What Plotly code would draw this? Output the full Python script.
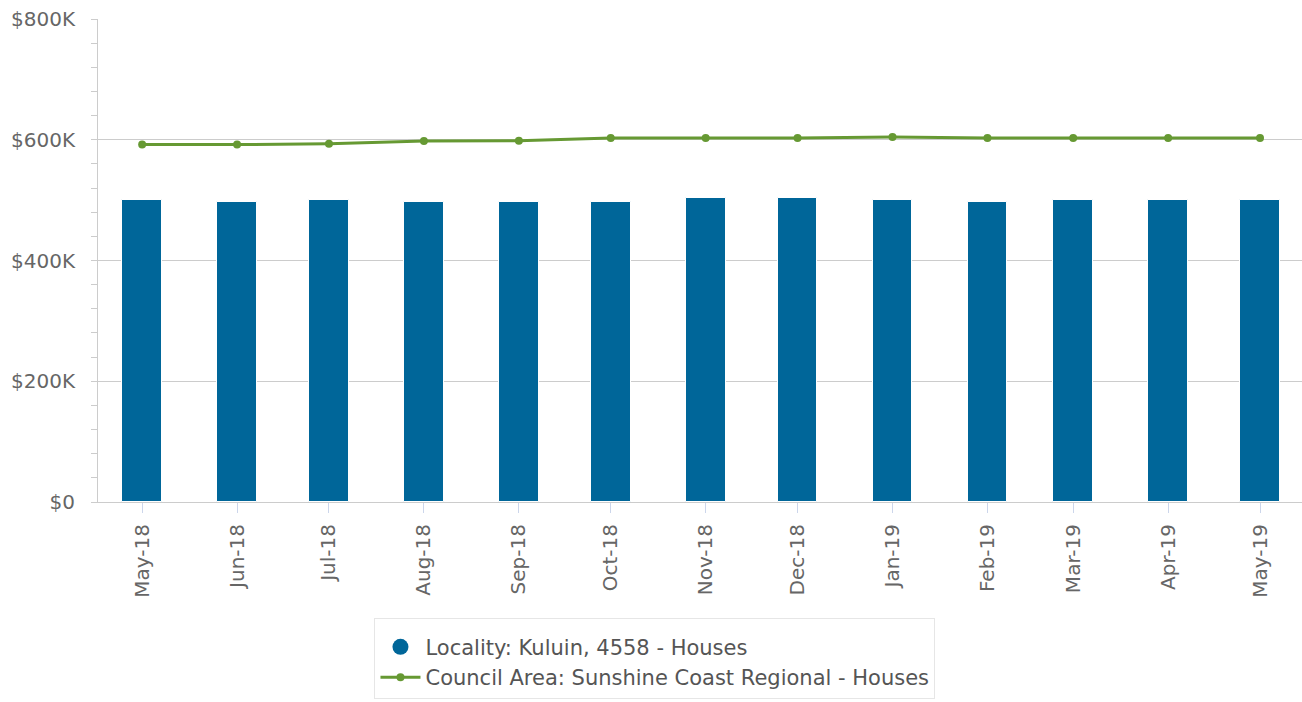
import plotly.graph_objects as go

months = ["2018-05-01", "2018-06-01", "2018-07-01", "2018-08-01", "2018-09-01",
          "2018-10-01", "2018-11-01", "2018-12-01", "2019-01-01", "2019-02-01",
          "2019-03-01", "2019-04-01", "2019-05-01"]
locality_values = [500000, 497000, 500000, 497000, 497000, 497000, 503000,
                   503000, 500000, 497000, 500000, 500000, 500000]
council_values = [592000, 592000, 593500, 598000, 598500, 603000, 603000,
                  603000, 604500, 603000, 603000, 603000, 603000]
y_ticks = [0, 200000, 400000, 600000, 800000]
y_tick_labels = ["$0", "$200K", "$400K", "$600K", "$800K"]

locality_name = "Locality: Kuluin, 4558 - Houses"
council_name = "Council Area: Sunshine Coast Regional - Houses"

BLUE = "#006699"
GREEN = "#669933"
FONT = "DejaVu Sans"

fig = go.Figure()
fig.add_trace(go.Bar(
    x=months, y=locality_values, name=locality_name,
    marker=dict(color=BLUE, line=dict(color="#ffffff", width=1)),
    width=13 * 86400000, showlegend=False,
))
# legend-only entry so the bar series shows a round symbol, as in the reference
fig.add_trace(go.Scatter(
    x=[None], y=[None], mode="markers", name=locality_name,
    marker=dict(color=BLUE, size=16, symbol="circle"),
))
fig.add_trace(go.Scatter(
    x=months, y=council_values, name=council_name, mode="lines+markers",
    line=dict(color=GREEN, width=3), marker=dict(color=GREEN, size=8),
))

fig.update_layout(
    width=1302, height=702,
    margin=dict(l=98, r=0, t=19, b=200, autoexpand=False),
    paper_bgcolor="white", plot_bgcolor="white",
    font=dict(family=FONT, size=20, color="#666666"),
    bargap=0,
    legend=dict(
        orientation="v", x=0.4626, xanchor="center", y=-0.24, yanchor="top",
        bordercolor="#e6e6e6", borderwidth=1, bgcolor="white",
        font=dict(family=FONT, size=21, color="#555555"),
        itemsizing="trace", tracegroupgap=0, itemwidth=40,
        title=dict(text=" ", font=dict(size=6)),
    ),
    xaxis=dict(
        type="date", range=["2018-04-16 14:00", "2019-05-14 17:00"],
        tickvals=months, tickformat="%b-%y", tickangle=-90,
        showgrid=False, showline=True, linecolor="#cccccc", linewidth=1,
        ticks="outside", ticklen=10, tickcolor="#ccd6eb",
        tickfont=dict(family=FONT, size=20, color="#666666"),
        ticklabelstandoff=3,
        zeroline=False, automargin=False,
    ),
    yaxis=dict(
        range=[0, 800000], tickvals=y_ticks, ticktext=y_tick_labels,
        showgrid=True, gridcolor="#cccccc", gridwidth=1,
        showline=True, linecolor="#cccccc", linewidth=1,
        ticks="outside", ticklen=6, tickcolor="#cccccc",
        minor=dict(dtick=40000, ticks="outside", ticklen=6, tickcolor="#cccccc", showgrid=False),
        tickfont=dict(family=FONT, size=20, color="#666666"),
        ticklabelstandoff=12,
        zeroline=False, automargin=False,
    ),
)

fig.write_html(
    "out.html",
    config={"displayModeBar": False},
    post_script="document.body.style.margin='0px'; document.body.style.overflow='hidden';",
)
